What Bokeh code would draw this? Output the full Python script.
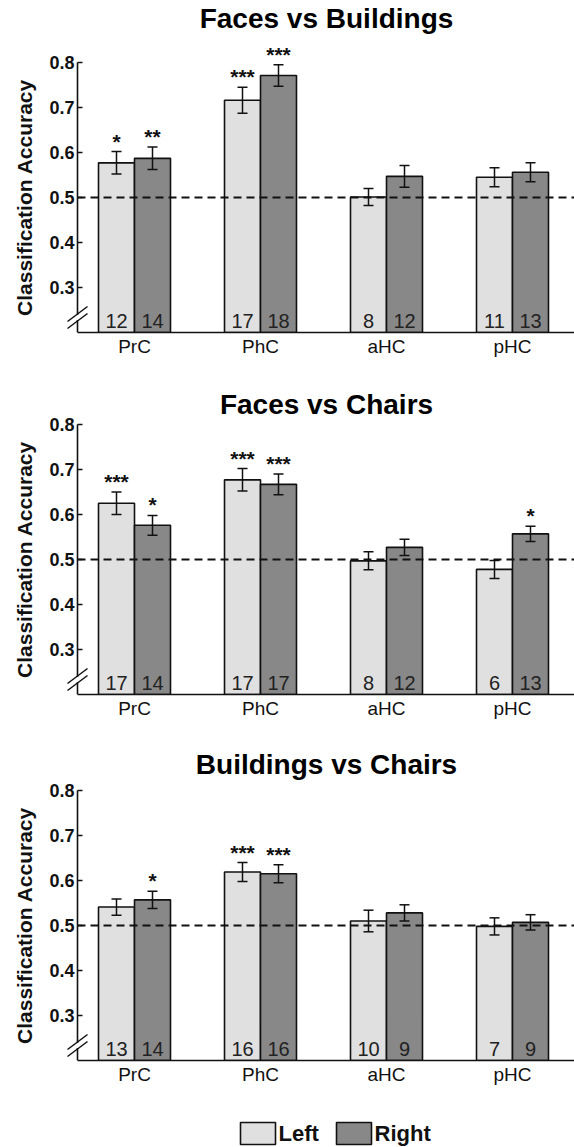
from bokeh.plotting import figure
from bokeh.layouts import column
from bokeh.models import (ColumnDataSource, Whisker, TeeHead, LabelSet,
                          PolyAnnotation, FixedTicker, Range1d)
from bokeh.core.properties import value
from bokeh.embed import file_html
from bokeh.resources import INLINE

# ---------------- data ----------------
regions = ["PrC", "PhC", "aHC", "pHC"]
hemis = ["Left", "Right"]

titles = ["Faces vs Buildings", "Faces vs Chairs", "Buildings vs Chairs"]

fb_left = [0.577, 0.716, 0.501, 0.545]
fb_left_err = [0.025, 0.029, 0.019, 0.021]
fb_right = [0.587, 0.771, 0.547, 0.556]
fb_right_err = [0.025, 0.024, 0.024, 0.021]
fb_left_sig = ["*", "***", "", ""]
fb_right_sig = ["**", "***", "", ""]
fb_left_n = [12, 17, 8, 11]
fb_right_n = [14, 18, 12, 13]

fc_left = [0.625, 0.677, 0.497, 0.478]
fc_left_err = [0.025, 0.025, 0.020, 0.020]
fc_right = [0.576, 0.667, 0.527, 0.557]
fc_right_err = [0.022, 0.023, 0.018, 0.017]
fc_left_sig = ["***", "***", "", ""]
fc_right_sig = ["*", "***", "", "*"]
fc_left_n = [17, 17, 8, 6]
fc_right_n = [14, 17, 12, 13]

bc_left = [0.541, 0.619, 0.510, 0.498]
bc_left_err = [0.018, 0.021, 0.024, 0.019]
bc_right = [0.557, 0.615, 0.528, 0.507]
bc_right_err = [0.019, 0.020, 0.018, 0.017]
bc_left_sig = ["", "***", "", ""]
bc_right_sig = ["*", "***", "", ""]
bc_left_n = [13, 16, 10, 7]
bc_right_n = [14, 16, 9, 9]

y_ticks = [0.3, 0.4, 0.5, 0.6, 0.7, 0.8]
chance = 0.5

# ---------------- style ----------------
FONT = "Liberation Sans"
LIGHT = "#e0e0e0"
DARK = "#888888"
INK = "#111111"
W = 574
PX_X = 126.0   # px per x unit
PX_Y = 450.0   # px per y unit
AXIS_PX = 77   # y axis position in px from the left edge
XA = 0.5476                      # y axis position (data)
XS = XA - AXIS_PX / PX_X         # left edge of frame
XE = XA + (W - AXIS_PX) / PX_X   # right edge of frame
YS, YTOP = 0.2, 0.8
BAR_W = 0.2857
TITLE_CX = XA + (326 - AXIS_PX) / PX_X


def panel(title, left, lerr, right, rerr, lsig, rsig, ln, rn,
          top_px, title_gap, bottom):
    # top_px: pixels from the top of the figure to the 0.8 level
    height = top_px + 270 + bottom
    p = figure(width=W, height=height, x_range=Range1d(XS, XE),
               y_range=Range1d(YS, YTOP + top_px / PX_Y),
               toolbar_location=None, output_backend="svg",
               min_border_left=0, min_border_right=0,
               min_border_top=0, min_border_bottom=bottom)
    p.outline_line_color = None
    p.grid.grid_line_color = None
    p.background_fill_color = "white"
    p.border_fill_color = "white"

    # panel title (title_gap: px from the 0.8 level up to the title's middle)
    p.text(x=[TITLE_CX], y=[YTOP + title_gap / PX_Y], text=[title],
           text_font=value(FONT), text_font_size=value("28px"),
           text_font_style="bold", text_align="center",
           text_baseline="middle", text_color="black")

    xs = [i + 1 for i in range(len(regions))]
    xl = [x - BAR_W / 2 for x in xs]
    xr = [x + BAR_W / 2 for x in xs]
    for xpos, vals, errs, sig, n, col in ((xl, left, lerr, lsig, ln, LIGHT),
                                          (xr, right, rerr, rsig, rn, DARK)):
        src = ColumnDataSource(dict(
            x=xpos, top=vals,
            upper=[v + e for v, e in zip(vals, errs)],
            lower=[v - e for v, e in zip(vals, errs)],
            sig=sig, n=[str(k) for k in n], base=[YS] * len(vals)))
        p.vbar(x="x", top="top", bottom=YS, width=BAR_W, source=src,
               fill_color=col, line_color=INK, line_width=1.6)
        wh = Whisker(source=src, base="x", upper="upper", lower="lower",
                     line_color=INK, line_width=1.5, level="annotation",
                     upper_head=TeeHead(size=10, line_color=INK, line_width=1.5),
                     lower_head=TeeHead(size=10, line_color=INK, line_width=1.5))
        p.add_layout(wh)
        p.add_layout(LabelSet(source=src, x="x", y="upper", text="sig",
                              text_align="center", text_baseline="alphabetic",
                              y_offset=3, text_font=value(FONT),
                              text_font_size="21px", text_font_style="bold",
                              text_color=INK))
        p.add_layout(LabelSet(source=src, x="x", y="base", text="n",
                              text_align="center", text_baseline="alphabetic",
                              y_offset=5, text_font=value(FONT),
                              text_font_size="20px", text_color="#222222"))

    # chance level (dashed), drawn over the bars, from the y axis to the right edge
    p.segment(x0=[XA], x1=[XE], y0=[chance], y1=[chance], line_color=INK,
              line_width=2, line_dash="8 5")

    # y axis, fixed at its own position inside the frame
    ya = p.yaxis[0]
    ya.fixed_location = XA
    ya.bounds = (YS, YTOP)
    ya.ticker = FixedTicker(ticks=y_ticks)
    ya.major_label_overrides = {t: f"{t:.1f}" for t in y_ticks}
    ya.major_tick_in = 5
    ya.major_tick_out = 0
    ya.minor_tick_line_color = None
    ya.axis_line_color = INK
    ya.axis_line_width = 1.6
    ya.major_tick_line_color = INK
    ya.major_tick_line_width = 1.5
    ya.major_label_text_font = FONT
    ya.major_label_text_font_size = "18px"
    ya.major_label_text_font_style = "bold"
    ya.major_label_text_color = INK
    ya.major_label_standoff = 3
    ya.axis_label = "Classification Accuracy"
    ya.axis_label_text_font = FONT
    ya.axis_label_text_font_size = "21px"
    ya.axis_label_text_font_style = "bold"
    ya.axis_label_text_color = INK
    ya.axis_label_standoff = 10

    # x axis
    xa = p.xaxis[0]
    xa.bounds = (XA, XE)
    xa.ticker = FixedTicker(ticks=xs)
    xa.major_label_overrides = {x: r for x, r in zip(xs, regions)}
    xa.major_tick_in = 0
    xa.major_tick_out = 0
    xa.minor_tick_line_color = None
    xa.axis_line_color = INK
    xa.axis_line_width = 1.6
    xa.major_label_text_font = FONT
    xa.major_label_text_font_size = "19px"
    xa.major_label_text_color = INK
    xa.major_label_standoff = 3

    # axis-break marks
    c1 = YS + 11.5 / PX_Y
    c2 = YS + 18.5 / PX_Y
    dx = 10 / PX_X
    dy = 7.5 / PX_Y
    p.add_layout(PolyAnnotation(xs=[XA, XA], ys=[c1 + 1 / PX_Y, c2 - 1 / PX_Y],
                                line_color="white", line_alpha=1.0, line_width=4,
                                fill_alpha=0))
    for c in (c1, c2):
        p.add_layout(PolyAnnotation(xs=[XA - dx, XA + dx], ys=[c - dy, c + dy],
                                    line_color=INK, line_alpha=1.0, line_width=1.5,
                                    fill_alpha=0))
    return p


p1 = panel(titles[0], fb_left, fb_left_err, fb_right, fb_right_err,
           fb_left_sig, fb_right_sig, fb_left_n, fb_right_n, 62, 44, 40)
p2 = panel(titles[1], fc_left, fc_left_err, fc_right, fc_right_err,
           fc_left_sig, fc_right_sig, fc_left_n, fc_right_n, 52, 20, 40)
p3 = panel(titles[2], bc_left, bc_left_err, bc_right, bc_right_err,
           bc_left_sig, bc_right_sig, bc_left_n, bc_right_n, 56, 26, 30)

# legend strip
LH = 56
pl = figure(width=W, height=LH, x_range=Range1d(0, W), y_range=Range1d(0, LH),
            toolbar_location=None, output_backend="svg", min_border=0,
            x_axis_type=None, y_axis_type=None)
pl.outline_line_color = None
pl.grid.grid_line_color = None
lsrc = ColumnDataSource(dict(bx=[257.5, 353.5], tx=[278, 374], by=[13, 13],
                             col=[LIGHT, DARK], lab=hemis))
pl.rect(x="bx", y="by", width=35, height=22, source=lsrc, fill_color="col",
        line_color=INK, line_width=1.6)
pl.text(x="tx", y="by", text="lab", source=lsrc, text_font=value(FONT),
        text_font_size=value("22px"), text_font_style="bold",
        text_baseline="middle", text_align="left", text_color=INK)

layout = column(p1, p2, p3, pl)
open("out.html", "w").write(file_html(layout, INLINE))
